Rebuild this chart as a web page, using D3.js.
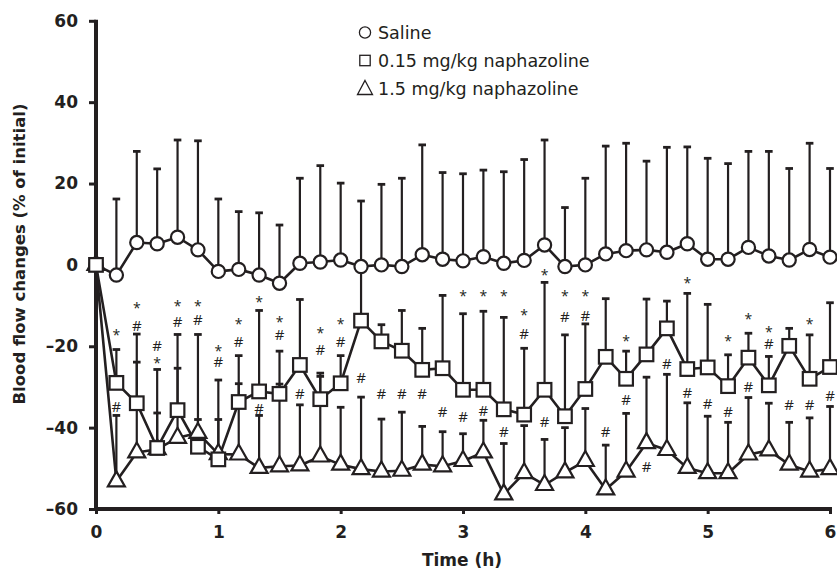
<!DOCTYPE html>
<html>
<head>
<meta charset="utf-8">
<script src="https://cdn.jsdelivr.net/npm/d3@7"></script>
<style>
  body { margin: 0; background: #fff; }
  svg { display: block; }
</style>
</head>
<body>
<div id="chart"></div>
<script>
// time points, minutes after dosing
const minutes = [0, 10, 20, 30, 40, 50, 60, 70, 80, 90, 100, 110, 120, 130, 140, 150, 160, 170, 180,
	190, 200, 210, 220, 230, 240, 250, 260, 270, 280, 290, 300, 310, 320, 330, 340, 350, 360];
const xTicks = [0, 1, 2, 3, 4, 5, 6];
const yTicks = [-60, -40, -20, 0, 20, 40, 60];

// mean blood flow change (% of initial) and upper end of the error bar
const saline = [0, -2.5, 5.5, 5.2, 6.8, 3.7, -1.6, -1.1, -2.5, -4.5, 0.4, 0.7, 1.2, -0.4, 0, -0.4, 2.5, 1.4, 1.0,
	2.0, 0.4, 1.1, 4.9, -0.4, 0, 2.7, 3.5, 3.7, 3.1, 5.2, 1.4, 1.4, 4.3, 2.2, 1.2, 3.8, 1.9];
const salineUpper = [0, 16.2, 27.9, 23.6, 30.7, 30.5, 16.2, 13.1, 12.8, 9.8, 21.3, 24.4, 20.1, 15.7, 19.8, 21.3, 29.5, 22.7, 22.4,
	23.3, 22.9, 25.9, 30.7, 14.1, 21.3, 29.2, 29.9, 25.5, 28.9, 29.0, 26.2, 24.9, 27.9, 27.9, 23.7, 29.9, 23.7];

const lowDose = [0, -29.0, -34.0, -45.0, -35.7, -44.7, -47.8, -33.7, -31.1, -31.7, -24.6, -33.0, -29.1, -13.7, -18.8, -21.1, -25.8, -25.4, -30.7,
	-30.7, -35.5, -36.8, -30.7, -37.2, -30.5, -22.6, -28.0, -22.0, -15.6, -25.6, -25.2, -29.8, -22.8, -29.6, -19.9, -28.0, -25.1];
const lowDoseUpper = [0, -20.8, -17.0, -25.7, -17.1, -17.1, -28.3, -22.3, -11.2, -21.2, -8.5, -26.6, -22.3, -1.0, -14.7, -11.2, -15.6, -7.5, -12.0,
	-11.4, -12.9, -20.5, -4.3, -17.2, -14.5, -8.3, -21.2, -8.4, -8.9, -7.0, -9.7, -22.1, -16.8, -22.5, -15.6, -17.2, -9.3];

const highDose = [0, -53.2, -46.1, -45.3, -42.5, -41.3, -46.5, -46.6, -49.9, -49.5, -49.3, -47.1, -49.1, -50.2, -50.8, -50.6, -49.1, -49.5, -48.2,
	-46.1, -56.4, -51.2, -54.1, -51.0, -48.2, -55.2, -50.8, -43.8, -45.5, -49.9, -51.2, -51.2, -46.6, -45.6, -49.1, -50.8, -50.2];
const highDoseUpper = [0, -37.0, -23.9, -36.4, -25.4, -38.0, -38.0, -29.2, -37.0, -29.3, -34.4, -27.4, -35.0, -32.5, -37.9, -36.2, -39.7, -41.0, -41.5,
	-38.2, -43.9, -39.5, -42.9, -40.0, -35.3, -44.3, -36.5, -27.6, -26.9, -33.9, -37.2, -38.7, -32.6, -34.0, -38.7, -37.6, -34.8];

// significance marks: [time index, level]
const stars = [[1, -16.6], [2, -10.1], [3, -23.5], [4, -9.4], [5, -9.4], [6, -20.5], [7, -13.8], [8, -8.6], [9, -13.4],
	[11, -16.2], [12, -13.9], [18, -7.0], [19, -7.0], [20, -7.0], [21, -11.7], [22, -1.9], [23, -7.1], [24, -7.1],
	[26, -18.0], [29, -3.9], [31, -18.0], [32, -12.7], [33, -16.0], [35, -13.9]];
const hashes = [[1, -34.7], [2, -14.8], [3, -19.7], [4, -13.9], [5, -13.5], [6, -23.8], [7, -18.9], [8, -35.2], [9, -17.2],
	[10, -31.5], [11, -20.7], [12, -18.9], [13, -27.6], [14, -31.7], [15, -31.7], [16, -31.7], [17, -36.1], [18, -37.3],
	[19, -35.7], [20, -41.0], [21, -16.8], [22, -38.5], [23, -12.7], [24, -12.5], [25, -41.0], [26, -33.2], [27, -49.6],
	[28, -24.3], [29, -31.4], [30, -34.0], [31, -36.1], [32, -29.8], [33, -19.4], [34, -34.2], [35, -34.2], [36, -32.0]];

const legendLabels = ["Saline", "0.15 mg/kg naphazoline", "1.5 mg/kg naphazoline"];

const ink = "#231f20";
const boldFont = "'DejaVu Sans', sans-serif";
const width = 837, height = 571;

const svg = d3.select("#chart").append("svg")
	.attr("width", width)
	.attr("height", height);

const x = d3.scaleLinear().domain([0, 6]).range([96, 830]);
const y = d3.scaleLinear().domain([-60, 60]).range([509, 20.8]);
const hours = minutes.map((m) => m / 60);

const triPath = "M0,-10L8.5,5L-8.5,5Z";
const shapes = {
	circle: (g) => g.append("circle").attr("r", 6.6),
	square: (g) => g.append("rect").attr("x", -6.8).attr("y", -6.8).attr("width", 13.6).attr("height", 13.6),
	triangle: (g) => g.append("path").attr("d", triPath),
};

const series = [
	{ name: "saline", values: saline, upper: salineUpper, shape: "circle" },
	{ name: "high", values: highDose, upper: highDoseUpper, shape: "triangle" },
	{ name: "low", values: lowDose, upper: lowDoseUpper, shape: "square" },
];

// error bars (upper only)
const bars = svg.append("g").attr("class", "errorbars");
series.forEach((s) => {
	const g = bars.append("g");
	const data = s.values.map((v, i) => ({ t: hours[i], v: v, u: s.upper[i] })).filter((d) => d.u > d.v);
	g.selectAll("line.stem").data(data).enter().append("line")
		.attr("x1", (d) => x(d.t)).attr("x2", (d) => x(d.t))
		.attr("y1", (d) => y(d.v)).attr("y2", (d) => y(d.u))
		.attr("stroke", ink).attr("stroke-width", 2.2);
	g.selectAll("line.cap").data(data).enter().append("line")
		.attr("x1", (d) => x(d.t) - 3.8).attr("x2", (d) => x(d.t) + 3.8)
		.attr("y1", (d) => y(d.u)).attr("y2", (d) => y(d.u))
		.attr("stroke", ink).attr("stroke-width", 2.8);
});

// axes
const yAxis = d3.axisLeft(y).tickValues(yTicks).tickSize(7).tickSizeOuter(0).tickPadding(11)
	.tickFormat((d) => (d < 0 ? "\u2013" + Math.abs(d) : d));
const xAxis = d3.axisBottom(x).tickValues(xTicks).tickSize(5).tickSizeOuter(0).tickPadding(12)
	.tickFormat(d3.format("d"));

const gy = svg.append("g").attr("transform", "translate(96,0)").call(yAxis);
const gx = svg.append("g").attr("transform", "translate(0,509)").call(xAxis);
[gx, gy].forEach((g) => {
	g.select(".domain").remove();
	g.selectAll(".tick line").attr("stroke", ink).attr("stroke-width", 3);
	g.selectAll(".tick text")
		.attr("fill", ink)
		.style("font-family", boldFont)
		.style("font-weight", "bold")
		.style("font-size", "17px");
});
svg.append("line").attr("x1", 96).attr("x2", 96).attr("y1", y(60) - 1).attr("y2", 511)
	.attr("stroke", ink).attr("stroke-width", 4);
svg.append("line").attr("x1", 94).attr("x2", x(6) + 2).attr("y1", 509).attr("y2", 509)
	.attr("stroke", ink).attr("stroke-width", 4);

// series lines
const line = d3.line().x((d, i) => x(hours[i])).y((d) => y(d));
series.forEach((s) => {
	svg.append("path").datum(s.values)
		.attr("d", line)
		.attr("fill", "none")
		.attr("stroke", ink)
		.attr("stroke-width", 2.6)
		.attr("stroke-linejoin", "round");
});

// markers
series.forEach((s) => {
	const g = svg.append("g").attr("class", "markers-" + s.name);
	s.values.forEach((v, i) => {
		const m = g.append("g").attr("transform", `translate(${x(hours[i])},${y(v)})`);
		shapes[s.shape](m).attr("fill", "#fff").attr("stroke", ink).attr("stroke-width", 2.2);
	});
});

// significance marks
const marks = svg.append("g")
	.style("font-family", "'Open Sans', sans-serif")
	.attr("fill", ink)
	.attr("text-anchor", "middle");
marks.selectAll("text.star").data(stars).enter().append("text")
	.attr("x", (d) => x(hours[d[0]]))
	.attr("y", (d) => y(d[1]) + 7.5)
	.style("font-size", "14px")
	.text("*");
marks.selectAll("text.hash").data(hashes).enter().append("text")
	.attr("x", (d) => x(hours[d[0]]))
	.attr("y", (d) => y(d[1]) + 5.5)
	.style("font-size", "15px")
	.text("#");

// axis titles
svg.append("text")
	.attr("x", 462).attr("y", 566)
	.attr("text-anchor", "middle")
	.attr("fill", ink)
	.style("font-family", boldFont)
	.style("font-weight", "bold")
	.style("font-size", "17px")
	.text("Time (h)");
svg.append("text")
	.attr("transform", "translate(25,254) rotate(-90)")
	.attr("text-anchor", "middle")
	.attr("fill", ink)
	.style("font-family", boldFont)
	.style("font-weight", "bold")
	.style("font-size", "16.5px")
	.text("Blood flow changes (% of initial)");

// legend
const legend = svg.append("g").attr("transform", "translate(365,0)");
const legendShapes = [
	(g) => g.append("circle").attr("r", 5.6),
	(g) => g.append("rect").attr("x", -5.2).attr("y", -5.2).attr("width", 10.4).attr("height", 10.4),
	(g) => g.append("path").attr("d", "M0,-8L7.5,6L-7.5,6Z"),
];
const legendY = [39, 67, 95];
legendLabels.forEach((label, i) => {
	const sy = legendY[i] - 6.5;
	const m = legend.append("g").attr("transform", `translate(0,${sy})`);
	legendShapes[i](m).attr("fill", "none").attr("stroke", ink).attr("stroke-width", 1.3);
	legend.append("text")
		.attr("x", 13).attr("y", legendY[i])
		.attr("fill", ink)
		.style("font-family", "'DejaVu Sans', sans-serif")
		.style("font-size", "17.5px")
		.text(label);
});
</script>
</body>
</html>
